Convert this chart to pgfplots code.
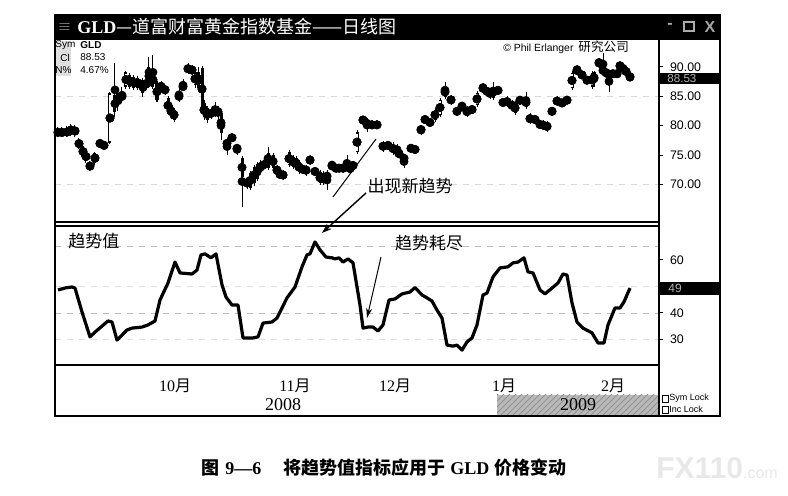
\documentclass[border=0pt]{standalone}
\usepackage{fontspec}
\setmainfont{Liberation Serif}
\setsansfont{Liberation Sans}
\newfontfamily\cjk{Noto Sans CJK SC}
\usepackage{pgfplots}
\pgfplotsset{compat=1.18}
\usepackage{pgfplotstable}
\usetikzlibrary{arrows.meta,patterns}
\newcommand\fs[1]{\fontsize{#1}{#1}\selectfont}
\newcommand\yue[1]{#1{\cjk 月}}

% GLD daily candles: x = horizontal position (chart units), lo, hi, body bottom, body top, t=1 hollow
\pgfplotstableread{
x lo hi bot top t
58 78.0 79.8 78.2 79.5 0
62 78.0 79.7 78.3 79.4 0
67 78.0 79.9 78.2 79.6 0
71 78.3 80.3 78.5 80.0 0
75 78.1 80.1 78.4 79.8 0
79 76.0 77.9 76.3 77.6 0
83 74.3 76.9 74.6 76.6 0
86 73.6 75.9 74.0 75.5 0
90 72.3 74.0 72.6 73.6 0
95 73.3 75.6 73.7 75.3 1
100 76.2 77.8 76.5 77.4 1
104 76.0 77.3 76.3 77.0 0
110 76.8 85.8 77.1 85.5 1
115 81.5 90.7 82.3 85.2 0
118 82.5 86.0 83.3 85.5 0
122 83.8 86.6 84.2 85.8 0
126 86.3 89.4 86.6 89.1 1
130 86.3 88.9 86.6 88.6 0
134 86.0 88.6 86.4 88.3 0
138 86.1 88.5 86.4 88.1 0
143 84.9 88.1 85.6 87.8 0
147 86.3 88.2 86.6 87.8 0
149 86.5 91.7 86.9 90.0 1
153 86.2 92.0 86.6 89.0 0
157 84.0 87.6 84.4 87.2 0
161 85.8 87.6 86.1 87.3 0
165 85.3 87.0 85.6 86.6 0
168 81.9 85.0 82.2 84.7 0
171 81.2 83.8 81.5 83.5 0
174 80.7 83.0 81.0 82.7 1
179 84.1 86.4 84.4 85.6 0
183 85.9 87.9 86.1 87.2 0
188 88.8 90.6 89.1 90.3 0
192 88.6 90.3 89.0 90.0 0
195 86.5 89.4 86.9 89.1 1
198 86.0 90.0 86.4 89.1 0
202 82.3 90.2 82.7 89.8 0
204 81.0 84.3 81.5 83.9 0
207 80.5 83.3 81.0 83.0 0
211 81.2 83.0 81.5 82.7 0
215 81.5 84.0 81.8 83.2 1
218 81.2 83.3 81.8 83.0 0
221 77.6 82.5 78.8 82.2 0
227 75.0 77.9 76.4 77.6 0
232 77.3 78.6 77.6 78.3 1
237 75.0 76.9 75.9 76.4 0
242 66.2 74.8 71.3 74.5 0
247 69.2 71.3 69.6 70.9 1
250 69.0 72.3 69.4 71.9 0
254 69.8 73.3 70.2 73.0 0
257 70.5 73.8 70.9 73.4 1
260 71.8 74.2 72.1 73.6 1
263 72.4 74.1 72.8 73.8 1
268 72.5 76.4 72.8 75.4 0
273 72.5 75.4 72.8 75.0 0
277 71.5 73.3 71.9 73.0 0
280 71.0 72.4 71.3 72.1 0
283 70.8 72.4 71.1 72.1 0
289 73.0 75.8 73.3 75.5 1
293 72.7 75.0 73.0 74.7 0
296 72.4 74.8 72.8 74.5 0
299 71.8 74.1 72.1 73.8 0
303 71.8 73.3 72.1 73.0 0
306 71.5 73.3 71.9 73.0 0
310 73.3 75.0 73.6 74.7 1
315 71.6 72.8 71.9 72.5 0
320 69.9 72.4 70.2 72.1 0
323 69.9 72.3 70.2 71.9 0
327 69.0 72.5 70.7 72.1 1
332 72.8 73.8 73.0 73.3 0
336 72.2 73.4 72.5 73.0 0
339 72.2 73.4 72.5 73.0 1
343 72.2 73.4 72.5 73.0 0
347 72.2 75.0 72.5 74.2 0
350 71.8 73.6 72.1 73.3 0
353 72.5 74.0 72.8 73.6 0
357 75.2 79.2 75.5 78.9 1
363 80.3 81.7 80.6 81.3 0
367 78.9 81.3 79.8 81.0 0
372 79.5 80.8 79.8 80.5 0
377 79.5 80.8 79.9 80.4 1
383 75.6 77.4 75.9 77.1 0
388 75.8 77.4 76.2 77.1 0
393 75.0 77.3 75.5 76.7 0
397 74.8 76.8 75.4 76.4 0
399 74.6 75.9 75.0 75.5 0
404 72.8 75.0 74.2 74.7 0
411 75.6 76.7 75.9 76.4 1
415 75.2 76.7 75.5 76.4 0
421 78.4 80.1 78.9 79.8 0
425 80.3 81.8 80.6 81.5 0
430 79.8 81.3 80.1 81.0 0
435 80.7 83.0 81.0 82.7 1
440 81.5 84.7 81.8 84.4 1
445 84.6 87.5 84.9 86.6 0
451 83.6 85.2 83.9 84.9 0
457 81.9 83.0 82.2 82.7 0
462 82.7 84.0 83.0 83.5 0
467 81.5 83.3 81.8 83.0 1
472 82.0 83.5 82.3 83.2 1
477 83.2 85.9 83.5 85.6 1
483 85.8 87.2 86.1 86.6 0
487 85.3 86.4 85.6 86.1 0
490 84.6 86.4 84.9 86.1 0
493 84.4 87.4 84.8 86.6 1
498 85.3 86.8 85.6 86.4 0
503 83.2 84.7 83.5 84.4 1
507 83.2 85.0 83.5 84.7 0
512 82.6 84.3 83.0 84.0 0
515 81.8 84.2 82.2 83.9 0
520 83.6 85.0 84.0 84.7 0
526 82.8 85.8 83.2 84.7 1
530 80.3 82.1 80.6 81.8 0
535 80.3 81.8 80.6 81.5 0
540 79.5 80.9 79.8 80.6 0
543 79.3 80.9 79.6 80.6 0
547 78.9 80.8 79.3 80.5 0
552 81.9 83.0 82.2 82.7 0
557 83.4 85.0 83.9 84.5 0
562 83.2 84.5 83.6 84.2 0
567 83.7 85.0 84.0 84.7 1
572 86.1 89.3 86.4 89.0 1
577 88.7 90.4 89.0 89.8 0
582 88.0 89.3 88.3 89.0 0
587 87.1 88.4 87.4 88.1 0
592 86.3 89.3 86.6 89.0 1
594 86.6 89.4 87.3 89.1 0
599 89.8 91.5 90.3 91.2 1
603 88.6 92.4 89.0 89.8 0
606 88.2 89.8 88.6 89.5 0
609 85.7 89.4 88.3 89.1 0
613 88.3 89.4 88.6 89.1 0
617 88.3 89.4 88.6 89.1 0
620 89.5 90.9 89.8 90.6 0
623 89.2 90.3 89.5 90.0 1
626 88.7 89.8 89.0 89.5 0
630 87.8 88.7 88.2 88.5 0
}\candles

% trend value indicator
\pgfplotstableread{
x v
58 48.7
66 49.5
72 49.8
75 49.4
82 40.4
90 31.0
95 32.8
108 37.0
112 36.6
117 29.8
127 33.6
132 34.3
142 34.7
148 35.5
155 37.0
160 44.9
168 51.3
175 59.2
180 55.1
192 54.7
197 56.2
201 61.9
205 62.3
211 60.8
216 62.3
222 50.6
226 46.0
232 43.0
238 43.0
243 30.6
253 30.6
258 31.0
263 36.2
272 36.6
277 38.1
287 45.7
295 49.8
302 57.4
307 61.9
310 62.3
315 66.8
320 63.8
326 61.1
332 60.8
335 60.4
339 60.8
343 59.2
348 60.4
353 58.9
360 43.0
363 34.3
368 34.7
373 34.7
378 33.2
383 35.5
389 44.9
395 45.3
402 47.2
410 47.9
415 49.6
422 46.8
427 45.7
432 44.5
437 41.1
442 38.1
447 27.9
453 27.5
457 27.9
462 26.0
467 29.1
472 30.6
477 35.5
483 46.8
487 47.5
493 53.6
500 57.0
508 57.4
513 58.9
518 59.2
524 60.8
528 55.5
533 55.1
540 48.7
545 47.2
552 49.4
558 51.3
563 54.7
567 54.3
572 43.8
577 36.6
583 34.3
592 32.5
598 28.7
604 28.7
608 35.5
615 41.9
620 41.9
624 44.2
630 49.4
}\trendval

\begin{document}
\begin{tikzpicture}
\useasboundingbox (0,0) rectangle (394pt,248pt);
\begin{scope}[x=0.5pt,y=-0.5pt,shift={(0pt,248pt)}]
  \fill[black] (55,15) rectangle (720,40);
  \fill[gray!55] (497,395) rectangle (659,415);
  \fill[pattern=north east lines, pattern color=gray!85] (497,395) rectangle (659,415);
  \fill[gray!25] (55,41) rectangle (71,76);
\end{scope}

% ---------- upper panel: price candles
\begin{axis}[
  scale only axis, width=302pt, height=91pt,
  at={(27.5pt,137pt)}, anchor=south west,
  xmin=55, xmax=659, ymin=63.6, ymax=94.6,
  axis x line=none, axis y line*=right,
  y axis line style={line width=0.8pt},
  ytick={70,75,80,85,90},
  yticklabel style={font=\sffamily\fs{6.2},
    /pgf/number format/fixed, /pgf/number format/fixed zerofill,
    /pgf/number format/precision=2, /pgf/number format/assume math mode=true},
  tick align=outside, major tick length=2pt,
  ytick style={black, line width=0.5pt},
]
  \draw[gray!30, dashed, line width=0.4pt] (axis cs:55,85) -- (axis cs:659,85);
  \draw[gray!30, dashed, line width=0.4pt] (axis cs:55,70) -- (axis cs:659,70);
  \addplot[only marks, mark=none, error bars/.cd, y dir=both, y explicit,
    error mark=none, error bar style={line width=0.5pt, black, line cap=butt}]
    table[x=x, y expr={(\thisrow{hi}+\thisrow{lo})/2},
      y error expr={(\thisrow{hi}-\thisrow{lo})/2}] {\candles};
  \addplot[only marks, mark=none, error bars/.cd, y dir=both, y explicit,
    error mark=none, error bar style={line width=1.5pt, black, line cap=butt}]
    table[x=x, y expr={(\thisrow{top}+\thisrow{bot})/2},
      y error expr={(\thisrow{top}-\thisrow{bot})/2}] {\candles};
  \addplot[only marks, mark=none, error bars/.cd, y dir=both, y explicit,
    error mark=none, error bar style={line width=0.6pt, white, line cap=butt}]
    table[x=x, y expr={(\thisrow{top}+\thisrow{bot})/2},
      y error expr={\thisrow{t}*max((\thisrow{top}-\thisrow{bot})/2-0.25,0)}] {\candles};
\end{axis}

% ---------- lower panel: trend value
\begin{axis}[
  scale only axis, width=302pt, height=69.5pt,
  at={(27.5pt,65.5pt)}, anchor=south west,
  xmin=55, xmax=659, ymin=20.4, ymax=72.8,
  axis x line*=bottom, axis y line*=right,
  x axis line style={draw=none},
  y axis line style={line width=0.8pt},
  xtick={175,295,395,504,613},
  xticklabels={\yue{10},\yue{11},\yue{12},\yue{1},\yue{2}},
  xticklabel style={font=\rmfamily\fs{8}, yshift=-1.5pt},
  xtick style={draw=none},
  ytick={30,40,60},
  yticklabel style={font=\sffamily\fs{6.2}, /pgf/number format/assume math mode=true},
  tick align=outside, major tick length=2pt,
  ytick style={black, line width=0.5pt},
]
  \draw[gray!55, dashed, line width=0.4pt] (axis cs:55,65) -- (axis cs:659,65);
  \draw[gray!55, dashed, line width=0.4pt] (axis cs:55,40) -- (axis cs:659,40);
  \draw[gray!25, dashed, line width=0.4pt] (axis cs:55,50) -- (axis cs:659,50);
  \draw[gray!25, dashed, line width=0.4pt] (axis cs:55,30) -- (axis cs:659,30);
  \addplot[black, line width=1.6pt, line join=round, mark=none] table[x=x, y=v] {\trendval};
\end{axis}

\begin{scope}[x=0.5pt,y=-0.5pt,shift={(0pt,248pt)}]
  % frame
  \draw[line width=0.8pt] (55,15) rectangle (720,416);
  \draw[line width=0.6pt] (55,222) -- (659,222);
  \draw[line width=0.6pt] (55,226) -- (659,226);
  \draw[line width=0.8pt] (55,365) -- (659,365);
  \draw[line width=0.8pt] (659,40) -- (659,416);
  % title bar text
  \node[anchor=west, text=gray!70, inner sep=0, font=\fs{7}] at (58,27) {$\equiv$};
  \node[anchor=west, text=white, inner sep=0] at (77,27)
    {{\fs{9}\bfseries GLD}{\cjk\fs{9}—道富财富黄金指数基金——日线图}};
  \node[text=gray!65, font=\sffamily\bfseries\fs{8}] at (670,26) {-};
  \draw[gray!65, line width=0.8pt] (684,22) rectangle (694,31);
  \node[text=gray!70, font=\sffamily\bfseries\fs{8}] at (710,27) {X};
  % legend top-left
  \node[anchor=west, inner sep=0, font=\sffamily\fs{5}] at (55,45) {Sym};
  \node[anchor=west, inner sep=0, font=\sffamily\bfseries\fs{5}] at (80,45) {GLD};
  \node[anchor=west, inner sep=0, font=\sffamily\fs{5}] at (60,57.5) {Cl};
  \node[anchor=west, inner sep=0, font=\sffamily\fs{5}] at (80,57.5) {88.53};
  \node[anchor=west, inner sep=0, font=\sffamily\fs{5}] at (55,70) {N\%};
  \node[anchor=west, inner sep=0, font=\sffamily\fs{5}] at (80,70) {4.67\%};
  \node[anchor=west, inner sep=0] at (503,47)
    {{\sffamily\fs{5.2}© Phil Erlanger}\hspace{2.5pt}{\cjk\fs{6.3}研究公司}};
  % value boxes
  \fill[black] (660,73) rectangle (720,84);
  \node[anchor=west, inner sep=0, text=gray!60, font=\sffamily\fs{5.8}] at (667,78.5) {88.53};
  \fill[black] (660,282) rectangle (720,295);
  \node[anchor=west, inner sep=0, text=gray!60, font=\sffamily\fs{6}] at (668,288.5) {49};
  % annotations
  \draw[line width=0.5pt] (333,197) -- (376,139);
  \draw[line width=0.7pt, -{Stealth[length=5pt,width=3.5pt]}] (366,193) -- (322,233);
  \node[font=\cjk\fs{8.5}] at (410,186) {出现新趋势};
  \node[font=\cjk\fs{8.5}] at (94,241) {趋势值};
  \node[font=\cjk\fs{8.5}] at (429,243) {趋势耗尽};
  \draw[line width=0.5pt, -{Stealth[length=5pt,width=3pt]}] (381,257) -- (367,318);
  % years
  \node[font=\rmfamily\fs{9}] at (283,405) {2008};
  \node[font=\rmfamily\fs{9}] at (578,405) {2009};
  % lock boxes
  \draw[line width=0.4pt] (662,395) rectangle (668,402);
  \node[anchor=west, inner sep=0, font=\sffamily\fs{4.5}] at (669,398.5) {Sym Lock};
  \draw[line width=0.4pt] (662,406) rectangle (668,413);
  \node[anchor=west, inner sep=0, font=\sffamily\fs{4.5}] at (669,409.5) {Inc Lock};
  % caption
  \node[anchor=west, inner sep=0] at (201,468) {{\cjk\bfseries\fs{9}图}\hspace{3pt}{\bfseries\fs{9}9—6}};
  \node[anchor=west, inner sep=0] at (283,468)
    {{\cjk\bfseries\fs{9}将趋势值指标应用于}\hspace{2.5pt}{\bfseries\fs{9}GLD}\hspace{2.5pt}{\cjk\bfseries\fs{9}价格变动}};
  % watermark
  \node[anchor=west, inner sep=0, text=gray!18] at (656,468)
    {{\sffamily\bfseries\fs{15}FX110}{\sffamily\fs{8}.com}};
\end{scope}
\end{tikzpicture}
\end{document}
